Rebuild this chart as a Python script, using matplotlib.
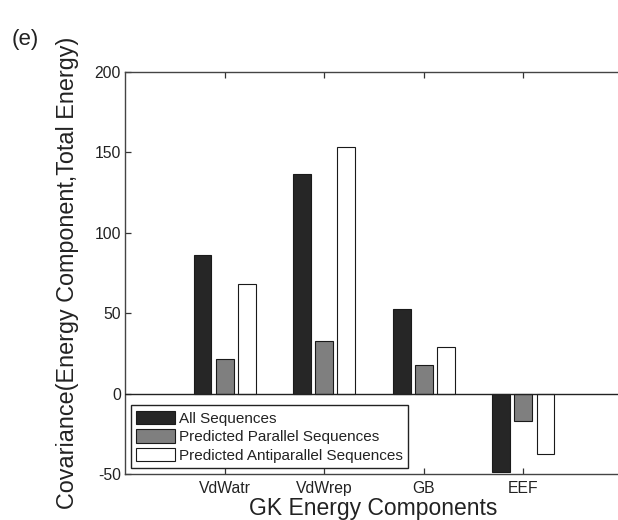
import numpy as np
import matplotlib
matplotlib.use('Agg')
import matplotlib.pyplot as plt

plt.rcParams['font.family'] = ['Liberation Sans', 'DejaVu Sans']
plt.rcParams['axes.unicode_minus'] = False

# covariance of each GK component with the total energy
components = ['VdWatr', 'VdWrep', 'GB', 'EEF']
all_seq = [86.3, 136.6, 52.6, -48.8]
parallel_seq = [21.7, 32.7, 18.0, -16.9]
antiparallel_seq = [68.3, 153.4, 29.0, -37.3]
series_names = ['All Sequences', 'Predicted Parallel Sequences',
                'Predicted Antiparallel Sequences']

W, H, DPI = 618, 520, 100
fig = plt.figure(figsize=(W / DPI, H / DPI), dpi=DPI)
# plot box runs a little past the right edge of the page
ax = fig.add_axes([125 / W, (H - 474.3) / H, 498 / W, 402.3 / H])

x = np.arange(1, len(components) + 1)
bw = 0.18
off = 0.222
edge = '#1a1a1a'
ax.bar(x - off, all_seq, bw, color='#262626', edgecolor=edge, lw=0.8,
       label=series_names[0], zorder=2)
ax.bar(x, parallel_seq, bw, color='#7f7f7f', edgecolor=edge, lw=0.8,
       label=series_names[1], zorder=2)
ax.bar(x + off, antiparallel_seq, bw, color='white', edgecolor=edge, lw=0.8,
       label=series_names[2], zorder=2)
ax.axhline(0, color='#222222', lw=1.0, zorder=3)

ax.set_xlim(0, 5)
ax.set_ylim(-50, 200)
ax.set_xticks(x)
ax.set_xticklabels(components)
ax.set_yticks([-50, 0, 50, 100, 150, 200])
ax.tick_params(direction='in', length=4, width=0.9, colors='#333333',
               labelcolor='#222222', labelsize=11.3, top=True, right=False)
ax.tick_params(axis='y', pad=3)
ax.tick_params(axis='x', pad=5)
for s in ax.spines.values():
    s.set_color('#444444')
    s.set_linewidth(1.0)

ax.set_xlabel('GK Energy Components', fontsize=16.5, color='#222222')
ax.xaxis.set_label_coords(373 / W, (H - 497) / H, transform=fig.transFigure)
ax.set_ylabel('Covariance(Energy Component,Total Energy)', fontsize=16.8,
              color='#222222')
ax.yaxis.set_label_coords(79 / W, (H - 273) / H, transform=fig.transFigure)

fig.text(25 / W, (H - 39) / H, '(e)', fontsize=16, color='#222222',
         ha='center', va='center')

leg = ax.legend(loc='lower left',
                bbox_to_anchor=(130.9 / W, (H - 468) / H),
                bbox_transform=fig.transFigure, fontsize=11,
                fancybox=False, framealpha=1, edgecolor='#222222',
                borderaxespad=0, borderpad=0.35, handlelength=2.55,
                handleheight=1.0, handletextpad=0.25, labelspacing=0.22)
leg.get_frame().set_linewidth(1.0)
for t in leg.get_texts():
    t.set_color('#222222')

fig.savefig('out.png', dpi=DPI)
